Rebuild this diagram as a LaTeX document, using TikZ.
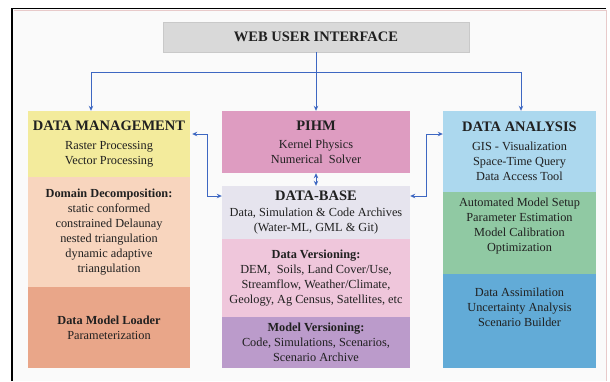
\documentclass[tikz,border=0pt]{standalone}
\usepackage{fontspec}
\setmainfont{Liberation Serif}
\usetikzlibrary{arrows.meta}

\definecolor{fundo}{HTML}{FAFAFA}
\definecolor{moldura}{HTML}{E8CACA}
\definecolor{cinza}{HTML}{D9D9D9}
\definecolor{cinzaborda}{HTML}{C9C9C9}
\definecolor{amarelo}{HTML}{F3EB9C}
\definecolor{pessego}{HTML}{F8D5BE}
\definecolor{salmao}{HTML}{E9A689}
\definecolor{rosa}{HTML}{DE9CC1}
\definecolor{lavanda}{HTML}{E6E4EE}
\definecolor{rosaclaro}{HTML}{EFC6DB}
\definecolor{roxo}{HTML}{BB9BCB}
\definecolor{azulclaro}{HTML}{ACD8EE}
\definecolor{verde}{HTML}{90C9A3}
\definecolor{azulmedio}{HTML}{62ABD7}
\definecolor{azul}{HTML}{3D67C2}
\definecolor{texto}{HTML}{202020}

\newcommand{\titulo}[1]{{\fontsize{14.5}{17}\selectfont\bfseries #1}}

\begin{document}
\begin{tikzpicture}[x=1pt, y=-1pt,
        caixa/.style={shape=rectangle, align=center, inner sep=0pt, text=texto,
            font=\fontsize{12.3}{15}\selectfont},
        coluna1/.style={caixa, minimum width=162pt},
        coluna2/.style={caixa, minimum width=188pt},
        coluna3/.style={caixa, minimum width=153pt},
        seta/.style={draw=azul, line width=0.9pt, -{Stealth[length=5pt,width=4.5pt]}},
        setadupla/.style={seta, {Stealth[length=5pt,width=4.5pt]}-{Stealth[length=5pt,width=4.5pt]}},
    ]
    \useasboundingbox (0,0) rectangle (610,381);

    % moldura
    \fill[fundo] (12,8) rectangle (607,381);
    \draw[moldura, line width=0.8pt] (14,10) -- (606,10) -- (606,381);
    \draw[line width=1.4pt] (11,8.5) -- (606,8.5);
    \draw[line width=2.6pt] (12,381) -- (12,8);

    \node[caixa, fill=cinza, draw=cinzaborda, minimum width=306pt, minimum height=30pt,
        font=\fontsize{14.5}{17}\selectfont\bfseries] (web) at (316,37) {WEB USER INTERFACE};

    % coluna da esquerda
    \node[coluna1, fill=amarelo, minimum height=66pt] (dm) at (109,144)
        {\titulo{DATA MANAGEMENT}\\[4pt] Raster Processing\\Vector Processing};
    \node[coluna1, fill=pessego, minimum height=110pt] (dominio) at (109,232)
        {\textbf{Domain Decomposition:}\\static conformed\\constrained Delaunay\\nested triangulation\\dynamic adaptive\\triangulation};
    \node[coluna1, fill=salmao, minimum height=81pt] (loader) at (109,327.5)
        {\textbf{Data Model Loader}\\Parameterization};

    % coluna do meio
    \node[coluna2, fill=rosa, minimum height=62pt] (pihm) at (316,142)
        {\titulo{PIHM}\\[3pt] Kernel Physics\\Numerical\ \ Solver};
    \node[coluna2, fill=lavanda, minimum height=53pt] (db) at (316,212.5)
        {\titulo{DATA-BASE}\\[1pt] Data, Simulation \& Code Archives\\(Water-ML, GML \& Git)};
    \node[coluna2, fill=rosaclaro, minimum height=78pt] (versoes) at (316,278)
        {\textbf{Data Versioning:}\\DEM,\ \ Soils, Land Cover/Use,\\Streamflow, Weather/Climate,\\Geology, Ag Census, Satellites, etc};
    \node[coluna2, fill=roxo, minimum height=51pt] (modelos) at (316,342.5)
        {\textbf{Model Versioning:}\\Code, Simulations, Scenarios,\\Scenario Archive};

    % coluna da direita
    \node[coluna3, fill=azulclaro, minimum height=81pt] (da) at (519.5,151.5)
        {\titulo{DATA ANALYSIS}\\[4pt] GIS - Visualization\\Space-Time Query\\Data Access Tool};
    \node[coluna3, fill=verde, minimum height=82pt, text depth=16pt] (calib) at (519.5,233)
        {Automated Model Setup\\Parameter Estimation\\Model Calibration\\Optimization};
    \node[coluna3, fill=azulmedio, minimum height=94pt, text depth=28pt] (assim) at (519.5,321)
        {Data Assimilation\\Uncertainty Analysis\\Scenario Builder};

    % ligacoes
    \coordinate (barra) at (316,72);
    \draw[seta] (web.south) -- (pihm.north);
    \draw[seta] (barra) -| ([xshift=-18pt]dm.north);
    \draw[seta] (barra) -| ([xshift=1.5pt]da.north);
    \draw[setadupla, shorten <=2pt] ([yshift=10pt]dm.east) -- ++(17,0) |- ([yshift=16.5pt]db.west);
    \draw[setadupla] ([yshift=16.5pt]db.east) -- ++(16,0) |- ([yshift=17.5pt]da.west);
    \draw[setadupla] (pihm.south) -- (db.north);

\end{tikzpicture}
\end{document}
